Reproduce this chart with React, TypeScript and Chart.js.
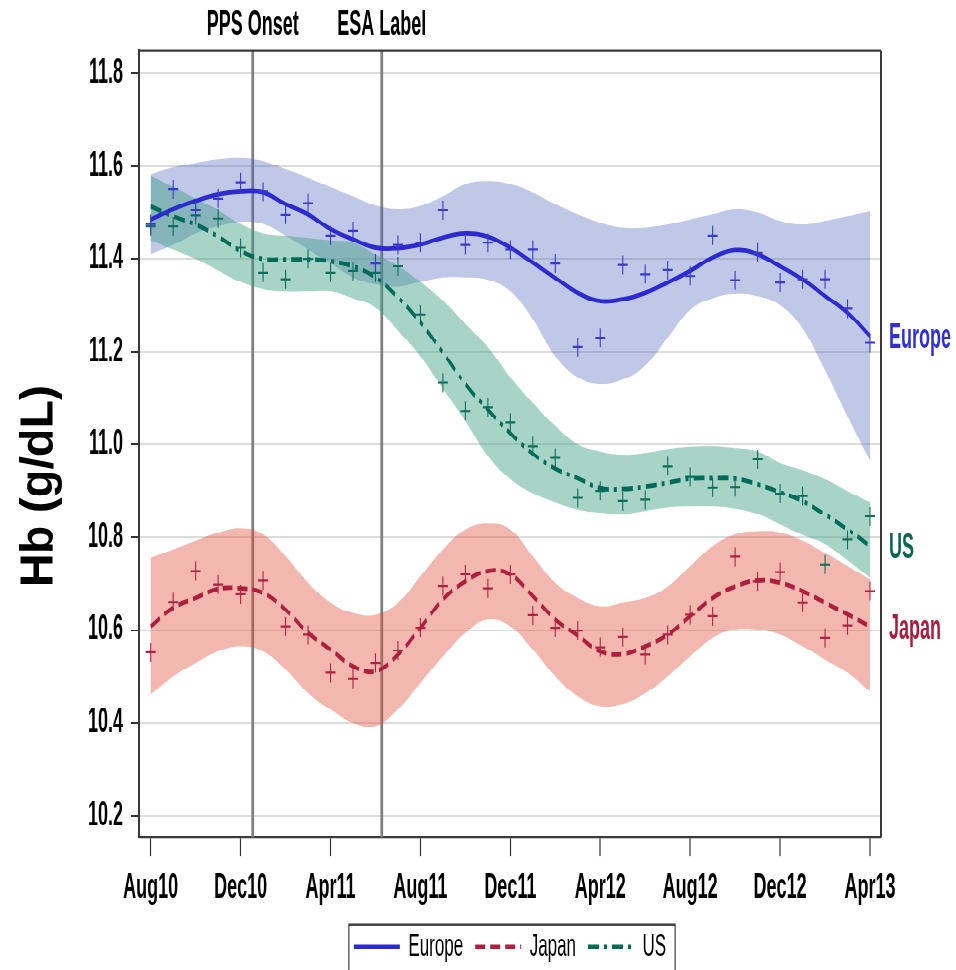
import React, { useEffect, useRef } from 'react';
import { Chart, registerables } from 'chart.js';

Chart.register(...registerables);

// Month index 0 = Aug10 ... 32 = Apr13
const months = [
  'Aug10', 'Sep10', 'Oct10', 'Nov10', 'Dec10', 'Jan11', 'Feb11', 'Mar11', 'Apr11', 'May11', 'Jun11',
  'Jul11', 'Aug11', 'Sep11', 'Oct11', 'Nov11', 'Dec11', 'Jan12', 'Feb12', 'Mar12', 'Apr12', 'May12',
  'Jun12', 'Jul12', 'Aug12', 'Sep12', 'Oct12', 'Nov12', 'Dec12', 'Jan13', 'Feb13', 'Mar13', 'Apr13',
];
const xTickMonths = [0, 4, 8, 12, 16, 20, 24, 28, 32];
const xTickLabels = ['Aug10', 'Dec10', 'Apr11', 'Aug11', 'Dec11', 'Apr12', 'Aug12', 'Dec12', 'Apr13'];
const yTicks = [10.2, 10.4, 10.6, 10.8, 11.0, 11.2, 11.4, 11.6, 11.8];

const refLineMonths = [4.54, 10.28];
const refLineLabels = ['PPS Onset', 'ESA Label'];

const seriesNames = ['Europe', 'Japan', 'US'];

// Observed monthly means (+ markers)
const europeObs = [11.475, 11.55, 11.505, 11.53, 11.565, 11.545, 11.495, 11.52, 11.45, 11.46, 11.39,
  11.43, 11.435, 11.505, 11.43, 11.435, 11.42, 11.42, 11.39, 11.21, 11.23, 11.387,
  11.367, 11.376, 11.363, 11.45, 11.354, 11.413, 11.349, 11.356, 11.356, 11.293, 11.219];
const usObs = [11.47, 11.47, 11.494, 11.487, 11.424, 11.37, 11.356, 11.40, 11.37, 11.374, 11.37,
  11.384, 11.28, 11.133, 11.072, 11.08, 11.047, 10.996, 10.971, 10.885, 10.90, 10.878,
  10.881, 10.953, 10.93, 10.907, 10.908, 10.968, 10.894, 10.889, 10.741, 10.795, 10.845];
const japanObs = [10.552, 10.66, 10.727, 10.698, 10.677, 10.707, 10.608, 10.59, 10.508, 10.495, 10.529,
  10.556, 10.605, 10.695, 10.72, 10.69, 10.72, 10.632, 10.605, 10.599, 10.563, 10.585,
  10.547, 10.59, 10.633, 10.63, 10.758, 10.705, 10.725, 10.659, 10.583, 10.61, 10.684];

// Smoothed fits
const europeFit = [11.485, 11.507, 11.525, 11.539, 11.545, 11.543, 11.518, 11.496, 11.464, 11.442, 11.424,
  11.423, 11.431, 11.446, 11.455, 11.448, 11.424, 11.392, 11.359, 11.327, 11.309, 11.313,
  11.327, 11.349, 11.374, 11.403, 11.419, 11.41, 11.384, 11.356, 11.32, 11.284, 11.234];
const usFit = [11.513, 11.492, 11.474, 11.448, 11.417, 11.40, 11.399, 11.399, 11.395, 11.384, 11.36,
  11.317, 11.263, 11.198, 11.13, 11.075, 11.024, 10.98, 10.948, 10.927, 10.906, 10.904,
  10.909, 10.917, 10.926, 10.927, 10.926, 10.914, 10.897, 10.878, 10.849, 10.817, 10.781];
const japanFit = [10.608, 10.648, 10.669, 10.689, 10.69, 10.68, 10.644, 10.594, 10.558, 10.522, 10.511,
  10.547, 10.605, 10.666, 10.705, 10.727, 10.72, 10.673, 10.623, 10.588, 10.554, 10.548,
  10.565, 10.59, 10.63, 10.669, 10.694, 10.707, 10.702, 10.684, 10.659, 10.634, 10.608];

// Confidence bands
const europeUpper = [11.582, 11.597, 11.607, 11.615, 11.618, 11.611, 11.593, 11.575, 11.554, 11.535, 11.515,
  11.507, 11.514, 11.535, 11.561, 11.568, 11.561, 11.543, 11.518, 11.496, 11.478, 11.467,
  11.467, 11.474, 11.485, 11.496, 11.507, 11.50, 11.482, 11.474, 11.482, 11.492, 11.503];
const europeLower = [11.41, 11.43, 11.455, 11.47, 11.48, 11.475, 11.45, 11.42, 11.39, 11.36, 11.345,
  11.34, 11.35, 11.36, 11.36, 11.355, 11.33, 11.27, 11.19, 11.145, 11.13, 11.14,
  11.17, 11.23, 11.29, 11.315, 11.325, 11.32, 11.30, 11.25, 11.16, 11.06, 10.965];
const usUpper = [11.58, 11.555, 11.53, 11.505, 11.475, 11.455, 11.45, 11.445, 11.44, 11.435, 11.41,
  11.385, 11.35, 11.31, 11.26, 11.21, 11.145, 11.09, 11.04, 11.0, 10.985, 10.978,
  10.982, 10.99, 10.995, 10.996, 10.992, 10.985, 10.96, 10.945, 10.925, 10.90, 10.875];
const usLower = [11.44, 11.42, 11.40, 11.375, 11.35, 11.335, 11.33, 11.33, 11.33, 11.315, 11.295,
  11.245, 11.19, 11.12, 11.05, 10.975, 10.925, 10.895, 10.875, 10.86, 10.853, 10.85,
  10.857, 10.865, 10.867, 10.867, 10.862, 10.85, 10.828, 10.805, 10.785, 10.75, 10.713];
const japanUpper = [10.756, 10.774, 10.792, 10.81, 10.82, 10.806, 10.759, 10.702, 10.659, 10.637, 10.633,
  10.659, 10.716, 10.774, 10.817, 10.83, 10.817, 10.759, 10.702, 10.669, 10.651, 10.659,
  10.669, 10.694, 10.738, 10.781, 10.806, 10.813, 10.81, 10.792, 10.766, 10.738, 10.709];
const japanLower = [10.461, 10.50, 10.529, 10.554, 10.565, 10.554, 10.515, 10.464, 10.429, 10.40, 10.393,
  10.429, 10.486, 10.543, 10.594, 10.623, 10.608, 10.558, 10.50, 10.457, 10.436, 10.441,
  10.464, 10.50, 10.543, 10.583, 10.601, 10.601, 10.59, 10.565, 10.536, 10.508, 10.468];

const FONT = "'Liberation Sans', Arial, Helvetica, sans-serif";

const lineColors = ['#2B2BCF', '#AE1E3D', '#006B58'];
const markerColors = ['#3A3AC8', '#B02242', '#0F6E5A'];
const bandColors = ['rgba(75,98,189,0.35)', 'rgba(222,77,57,0.40)', 'rgba(62,159,133,0.45)'];
const labelColors = ['#3030D0', '#A81C3C', '#0A6652'];
const lineDashes = [[], [10, 5], [11, 5, 3, 5]];

// The reference picture is drawn with a vertical stretch: the chart is laid out
// in a 956 x 510 box and the whole canvas is scaled vertically to 970 px.
const W = 956;
const H = 510;
const S = 970 / H;
const v = (finalPx: number) => finalPx / S;

const xy = (arr: number[]) => arr.map((y, i) => ({ x: i, y }));

export default function App() {
  const ref = useRef<HTMLCanvasElement | null>(null);

  useEffect(() => {
    if (!ref.current) return;
    const fits = [europeFit, japanFit, usFit];
    const uppers = [europeUpper, japanUpper, usUpper];
    const lowers = [europeLower, japanLower, usLower];
    const obs = [europeObs, japanObs, usObs];

    const datasets: any[] = [];
    fits.forEach((f, i) => {
      datasets.push({
        label: seriesNames[i],
        data: xy(f),
        borderColor: lineColors[i],
        backgroundColor: lineColors[i],
        borderWidth: 2.4,
        borderDash: lineDashes[i],
        pointRadius: 0,
        tension: 0.4,
        fill: false,
        order: 2,
      });
    });
    const bandOrder = [6, 5, 4];
    lowers.forEach((lo, i) => {
      const loIndex = datasets.length;
      datasets.push({
        label: '_lo' + i,
        data: xy(lo),
        borderWidth: 0,
        borderColor: 'rgba(0,0,0,0)',
        pointRadius: 0,
        tension: 0.4,
        fill: false,
        order: bandOrder[i],
      });
      datasets.push({
        label: '_hi' + i,
        data: xy(uppers[i]),
        borderWidth: 0,
        borderColor: 'rgba(0,0,0,0)',
        backgroundColor: bandColors[i],
        pointRadius: 0,
        tension: 0.4,
        fill: loIndex,
        order: bandOrder[i],
      });
    });
    obs.forEach((o, i) => {
      datasets.push({
        label: '_obs' + i,
        data: xy(o),
        showLine: false,
        pointStyle: 'cross',
        pointRadius: 5,
        pointBorderWidth: 1.1,
        pointBorderColor: markerColors[i],
        pointBackgroundColor: markerColors[i],
        order: 1,
      });
    });

    const annotate = {
      id: 'annotate',
      beforeDatasetsDraw(chart: any) {
        const { ctx, chartArea: a, scales } = chart;
        ctx.save();
        ctx.strokeStyle = '#808080';
        ctx.lineWidth = 2.8;
        refLineMonths.forEach((m) => {
          const px = scales.x.getPixelForValue(m);
          ctx.beginPath();
          ctx.moveTo(px, a.top);
          ctx.lineTo(px, a.bottom);
          ctx.stroke();
        });
        ctx.restore();
      },
      afterDraw(chart: any) {
        const { ctx, chartArea: a, scales } = chart;
        ctx.save();
        // top and right frame edges
        ctx.strokeStyle = '#3a3a3a';
        ctx.lineWidth = 1.1;
        ctx.beginPath();
        ctx.moveTo(a.left, a.top);
        ctx.lineTo(a.right, a.top);
        ctx.stroke();
        ctx.lineWidth = 2;
        ctx.beginPath();
        ctx.moveTo(a.right, a.top);
        ctx.lineTo(a.right, a.bottom);
        ctx.stroke();
        // reference line labels
        ctx.fillStyle = '#000';
        ctx.font = `bold 18px ${FONT}`;
        ctx.textAlign = 'center';
        ctx.textBaseline = 'middle';
        refLineMonths.forEach((m, i) => {
          ctx.fillText(refLineLabels[i], scales.x.getPixelForValue(m), v(26));
        });
        // curve labels at right
        ctx.textAlign = 'left';
        fits.forEach((f, i) => {
          ctx.fillStyle = labelColors[i];
          const y = scales.y.getPixelForValue(f[f.length - 1]) + v(3);
          ctx.fillText(seriesNames[i], a.right + 8, y);
        });
        // y-axis title (drawn without the vertical stretch)
        ctx.fillStyle = '#000';
        ctx.font = `bold 46px ${FONT}`;
        ctx.translate(40, v(486));
        ctx.scale(1, 1 / S);
        ctx.rotate(-Math.PI / 2);
        ctx.textAlign = 'center';
        ctx.textBaseline = 'middle';
        ctx.fillText('Hb (g/dL)', 0, 0);
        ctx.restore();
        // legend border
        const lg = chart.legend;
        if (lg && lg.legendHitBoxes && lg.legendHitBoxes.length) {
          const hb = lg.legendHitBoxes;
          const l = Math.min(...hb.map((h: any) => h.left)) - 5;
          const r = Math.max(...hb.map((h: any) => h.left + h.width)) + 9;
          ctx.save();
          ctx.strokeStyle = '#3a3a3a';
          ctx.lineWidth = 1.2;
          ctx.strokeRect(l, v(925), r - l, 60);
          ctx.restore();
        }
      },
    };

    const chart = new Chart(ref.current, {
      type: 'line',
      data: { datasets },
      plugins: [annotate],
      options: {
        animation: false,
        responsive: true,
        maintainAspectRatio: false,
        devicePixelRatio: 2,
        events: [],
        layout: { padding: { top: v(51), right: 75, left: 0, bottom: H - 39 - (v(947) - 20.5) } },
        plugins: {
          legend: {
            position: 'bottom',
            fullSize: false,
            labels: {
              generateLabels: (c: any) => {
                const items = (Chart.defaults.plugins.legend.labels as any).generateLabels(c);
                return items
                  .filter((it: any) => it.datasetIndex < 3)
                  .map((it: any) => ({
                    ...it,
                    pointStyle: 'line',
                    lineDash: lineDashes[it.datasetIndex],
                    lineWidth: 2.2,
                    lineCap: 'butt',
                    strokeStyle: lineColors[it.datasetIndex],
                    fillStyle: lineColors[it.datasetIndex],
                  }));
              },
              filter: (item: any) => item.datasetIndex < 3,
              usePointStyle: true,
              pointStyle: 'line',
              pointStyleWidth: 46,
              padding: 12,
              color: '#000',
              font: { family: FONT, size: 17 },
            },
          },
          tooltip: { enabled: false },
        },
        scales: {
          x: {
            type: 'linear',
            min: -0.52,
            max: 32.49,
            afterFit: (s: any) => { s.height = (v(947) - 20.5) - v(837); },
            afterBuildTicks: (s: any) => { s.ticks = xTickMonths.map((t) => ({ value: t })); },
            grid: { drawOnChartArea: false, drawTicks: true, tickLength: 10, tickColor: '#333', tickWidth: 1.2 },
            border: { display: true, color: '#3a3a3a', width: 1.1 },
            ticks: {
              autoSkip: false,
              maxRotation: 0,
              padding: 6,
              color: '#000',
              font: { family: FONT, size: 18, weight: 'bold' },
              callback: (_t: any, i: number) => xTickLabels[i],
            },
          },
          y: {
            type: 'linear',
            min: 10.154,
            max: 11.848,
            afterFit: (s: any) => { s.width = 139; },
            afterBuildTicks: (s: any) => { s.ticks = yTicks.map((t) => ({ value: t })); },
            grid: { color: '#DCDCDC', lineWidth: 1, tickLength: 8, tickColor: '#333', tickWidth: 1 },
            border: { display: true, color: '#3a3a3a', width: 2 },
            ticks: {
              autoSkip: false,
              padding: 8,
              color: '#000',
              font: { family: FONT, size: 18, weight: 'bold' },
              callback: (t: any) => Number(t).toFixed(1),
            },
          },
        },
      } as any,
    });
    return () => chart.destroy();
  }, []);

  return (
    <div
      style={{
        position: 'absolute',
        left: 0,
        top: 0,
        width: W,
        height: H,
        background: '#fff',
        transform: `scaleY(${S})`,
        transformOrigin: 'top left',
      }}
    >
      <canvas ref={ref} />
    </div>
  );
}
